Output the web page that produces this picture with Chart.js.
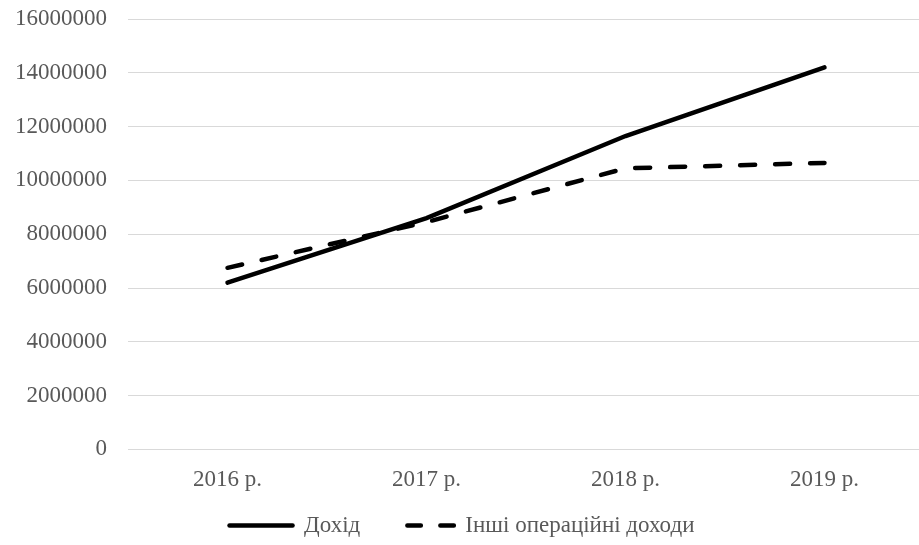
<!DOCTYPE html>
<html>
<head>
<meta charset="utf-8">
<script src="https://cdn.jsdelivr.net/npm/chart.js@4.4.1/dist/chart.umd.min.js"></script>
<style>
  html, body { margin: 0; padding: 0; background: #ffffff; overflow: hidden; }
  #wrap { position: relative; width: 924px; height: 545px; }
</style>
</head>
<body>
<div id="wrap"><canvas id="chart"></canvas></div>
<script>
// Роки та значення показників
const years = ['2016 р.', '2017 р.', '2018 р.', '2019 р.'];
const income = [6200000, 8600000, 11650000, 14200000];
const otherOperatingIncome = [6750000, 8450000, 10450000, 10650000];
const seriesNames = ['Дохід', 'Інші операційні доходи'];

const FONT = '"Liberation Serif", "Times New Roman", serif';
const TEXT = '#595959';
const LINE_W = 4.5;
const CHART_DASH = [15, 20];
// the legend key is stroked right-to-left, so the offset puts the first dash at its left end
const LEGEND_DASH = [13.5, 19.5];
const LEGEND_DASH_OFFSET = 16.5;

function legendLabels(chart) {
  return chart.data.datasets.map((ds, i) => ({
    // extra space widens the gap after the first entry
    text: i === 0 ? ds.label + '\u2003\u2009' : ds.label,
    fillStyle: '#000000',
    strokeStyle: '#000000',
    fontColor: TEXT,
    lineWidth: LINE_W,
    lineCap: 'round',
    lineDash: ds.borderDash ? LEGEND_DASH : [],
    lineDashOffset: ds.borderDash ? LEGEND_DASH_OFFSET : 0,
    pointStyle: 'line',
    hidden: !chart.isDatasetVisible(i),
    datasetIndex: i
  }));
}

new Chart(document.getElementById('chart'), {
  type: 'line',
  data: {
    labels: years,
    datasets: [
      {
        label: seriesNames[0],
        data: income,
        borderColor: '#000000',
        backgroundColor: '#000000',
        borderWidth: LINE_W,
        borderCapStyle: 'round',
        pointRadius: 0,
        tension: 0,
        fill: false
      },
      {
        label: seriesNames[1],
        data: otherOperatingIncome,
        borderColor: '#000000',
        backgroundColor: '#000000',
        borderWidth: LINE_W,
        borderDash: CHART_DASH,
        borderCapStyle: 'round',
        pointRadius: 0,
        tension: 0,
        fill: false
      }
    ]
  },
  options: {
    responsive: true,
    maintainAspectRatio: false,
    animation: false,
    layout: { padding: { top: 19, right: 0, bottom: -2, left: 0 } },
    plugins: {
      tooltip: { enabled: false },
      legend: {
        position: 'bottom',
        labels: {
          usePointStyle: true,
          pointStyle: 'line',
          pointStyleWidth: 63,
          boxHeight: 4,
          padding: 3,
          color: TEXT,
          font: { family: FONT, size: 23 },
          generateLabels: legendLabels
        }
      }
    },
    scales: {
      x: {
        offset: true,
        grid: { display: false, drawTicks: false },
        border: { display: false },
        ticks: { color: TEXT, padding: 17, font: { family: FONT, size: 23 } }
      },
      y: {
        min: 0,
        max: 16000000,
        afterFit: (scale) => { scale.width = 128; scale.paddingTop = 0; },
        grid: { color: '#d9d9d9', lineWidth: 1, drawTicks: false },
        border: { display: false },
        ticks: {
          stepSize: 2000000,
          color: TEXT,
          padding: 21,
          font: { family: FONT, size: 23 },
          callback: (v) => String(v)
        }
      }
    }
  }
});
</script>
</body>
</html>
